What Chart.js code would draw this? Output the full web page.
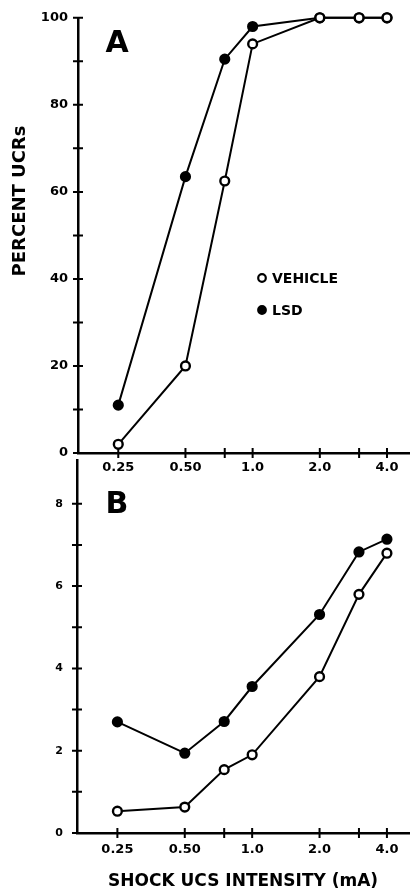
<!DOCTYPE html>
<html>
<head>
<meta charset="utf-8">
<script src="https://cdn.jsdelivr.net/npm/chart.js@4.4.1/dist/chart.umd.min.js"></script>
<style>
  html, body { margin: 0; padding: 0; background: #fff; }
  #wrap { position: relative; width: 416px; height: 892px; overflow: hidden; }
  canvas { position: absolute; left: 0; }
  #chart-a { top: 0; }
  #chart-b { top: 440px; }
</style>
</head>
<body>
<div id="wrap">
  <canvas id="chart-a" width="416" height="480"></canvas>
  <canvas id="chart-b" width="416" height="452"></canvas>
</div>
<script>
// shock intensity (mA), log axis
const doses = [0.25, 0.5, 0.75, 1, 2, 3, 4];
const doseLabels = ["0.25", "0.50", "", "1.0", "2.0", "", "4.0"];

// panel A: percent UCRs
const pctVehicle = [2, 20, 62.5, 94, 100, 100, 100];
const pctLSD = [11, 63.5, 90.5, 98, 100, 100, 100];
const pctTicks = [0, 10, 20, 30, 40, 50, 60, 70, 80, 90, 100];

// panel B: UCR amplitude (mm)
const ampVehicle = [0.53, 0.63, 1.54, 1.9, 3.8, 5.8, 6.8];
const ampLSD = [2.7, 1.94, 2.71, 3.56, 5.31, 6.83, 7.14];
const ampTicks = [0, 1, 2, 3, 4, 5, 6, 7, 8];

const FONT = '"DejaVu Sans", Verdana, sans-serif';
const INK = "#000";

// cross-shaped tick marks, panel letter, rotated y title, in-plot legend
const decor = {
  id: "decor",
  afterDraw(chart, args, o) {
    const ctx = chart.ctx;
    const { x, y } = chart.scales;
    const axisX = y.right, axisY = x.top;
    ctx.save();
    ctx.strokeStyle = INK;
    ctx.lineWidth = 2;
    ctx.beginPath();
    for (const t of y.ticks) {
      const py = y.getPixelForValue(t.value);
      ctx.moveTo(axisX - 5, py);
      ctx.lineTo(axisX + 5, py);
    }
    for (const t of x.ticks) {
      const px = x.getPixelForValue(t.value);
      ctx.moveTo(px, axisY - 5);
      ctx.lineTo(px, axisY + 5);
    }
    ctx.stroke();

    ctx.fillStyle = INK;
    ctx.textAlign = "center";
    ctx.textBaseline = "middle";
    ctx.font = "bold 30px " + FONT;
    ctx.fillText(o.letter, o.letterAt[0], o.letterAt[1]);

    ctx.save();
    ctx.translate(o.titleAt[0], o.titleAt[1]);
    ctx.rotate(-Math.PI / 2);
    ctx.font = "bold " + o.titleSize + "px " + FONT;
    ctx.fillText(o.title, 0, 0);
    ctx.restore();

    if (o.legend) {
      const [lx, ly] = o.legend;
      ctx.font = "bold 14px " + FONT;
      ctx.textAlign = "left";
      chart.data.datasets.forEach((ds, i) => {
        const cy = ly + i * 32;
        ctx.beginPath();
        ctx.arc(lx, cy, 3.8, 0, Math.PI * 2);
        ctx.fillStyle = ds.pointBackgroundColor;
        ctx.fill();
        ctx.lineWidth = 2.2;
        ctx.stroke();
        ctx.fillStyle = INK;
        ctx.fillText(ds.label, lx + 10, cy + 1);
      });
    }
    ctx.restore();
  }
};

function series(label, data, fill) {
  return {
    label,
    data: doses.map((d, i) => ({ x: d, y: data[i] })),
    borderColor: INK,
    borderWidth: 2,
    pointRadius: 4.4,
    pointBorderWidth: 2.4,
    pointBorderColor: INK,
    pointBackgroundColor: fill,
    tension: 0,
    clip: false
  };
}

function makeChart(id, cfg) {
  return new Chart(document.getElementById(id), {
    type: "line",
    data: {
      datasets: [
        series("VEHICLE", cfg.vehicle, "#fff"),
        series("LSD", cfg.lsd, INK)
      ]
    },
    options: {
      responsive: false,
      animation: false,
      layout: { padding: { top: cfg.padTop, left: 0, right: 0, bottom: 0 } },
      plugins: {
        legend: { display: false },
        tooltip: { enabled: false },
        decor: cfg.decor
      },
      scales: {
        x: {
          type: "logarithmic",
          min: 0.165,
          max: 5.03,
          afterBuildTicks: s => { s.ticks = doses.map(v => ({ value: v })); },
          afterFit: s => { s.height = cfg.xHeight; },
          grid: { display: false, drawTicks: false },
          border: { color: INK, width: 2.5 },
          ticks: {
            autoSkip: false,
            maxRotation: 0,
            minRotation: 0,
            padding: cfg.xPad,
            color: INK,
            font: { family: FONT, size: 13, weight: "bold" },
            callback: (v, i) => doseLabels[i]
          },
          title: cfg.xTitle
        },
        y: {
          min: 0,
          max: cfg.yMax,
          afterBuildTicks: s => { s.ticks = cfg.yTicks.map(v => ({ value: v })); },
          afterFit: s => { s.width = cfg.yWidth; },
          grid: { display: false, drawTicks: false },
          border: { color: INK, width: 2.5 },
          ticks: {
            autoSkip: false,
            padding: cfg.yPad,
            color: INK,
            font: { family: FONT, size: cfg.yFont, weight: "bold" },
            callback: v => (v % cfg.yLabelStep === 0 ? String(v) : "")
          }
        }
      }
    },
    plugins: [decor]
  });
}

window.addEventListener("load", () => {
  makeChart("chart-a", {
    vehicle: pctVehicle,
    lsd: pctLSD,
    padTop: 17,
    xHeight: 27,
    xPad: 7,
    yMax: 100,
    yTicks: pctTicks,
    yLabelStep: 20,
    yWidth: 78,
    yPad: 10,
    yFont: 13,
    xTitle: { display: false },
    decor: { letter: "A", letterAt: [117, 44], title: "PERCENT UCRs", titleSize: 18, titleAt: [20, 201], legend: [262, 278] }
  });

  makeChart("chart-b", {
    vehicle: ampVehicle,
    lsd: ampLSD,
    padTop: 13,
    xHeight: 59,
    xPad: 9,
    yMax: 9.05,
    yTicks: ampTicks,
    yLabelStep: 2,
    yWidth: 77,
    yPad: 14,
    yFont: 11,
    xTitle: {
      display: true,
      text: "SHOCK UCS INTENSITY (mA)",
      align: "center",
      color: INK,
      font: { family: FONT, size: 17, weight: "bold" },
      padding: { top: 0, bottom: 0 }
    },
    decor: { letter: "B", letterAt: [117, 65], title: "UCR AMPLITUDE (mm)", titleSize: 16, titleAt: [20, 584], legend: null }
  });
});
</script>
</body>
</html>
